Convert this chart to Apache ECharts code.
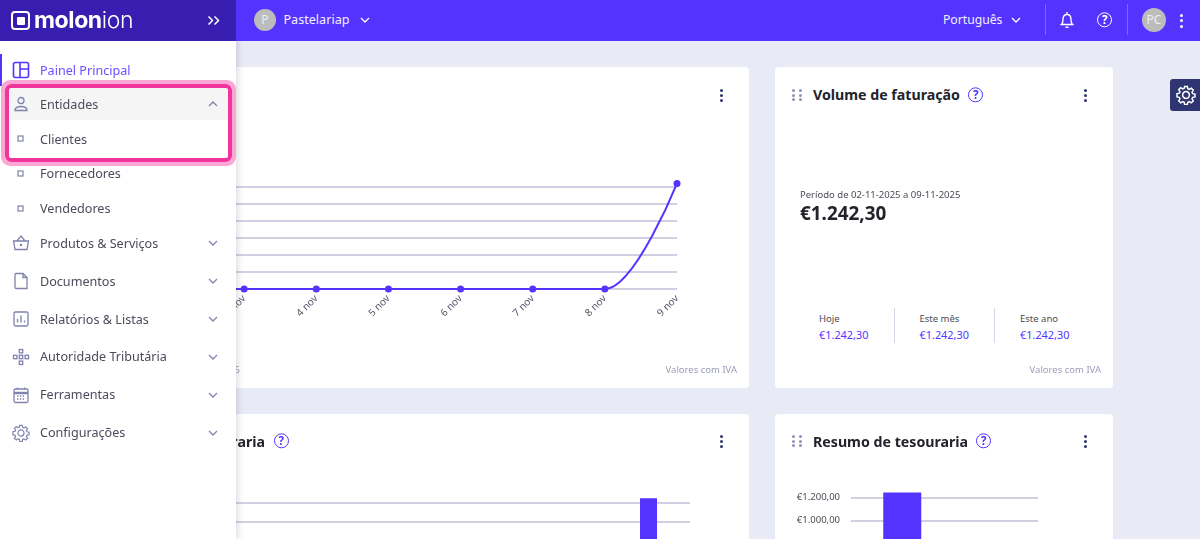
<!DOCTYPE html>
<html lang="pt">
<head>
<meta charset="utf-8">
<title>Painel Principal</title>
<script src="https://cdn.jsdelivr.net/npm/echarts@6/dist/echarts.min.js"></script>
<style>
html,body{margin:0;padding:0;width:1200px;height:539px;overflow:hidden;background:#e8eaf6;font-family:"Noto Sans",sans-serif;color:#4a4b5c}
.abs,.t,.card,.chart,svg{position:absolute}
.t{white-space:nowrap;line-height:1;transform:translateY(-50%)}
.card{background:#fff;border-radius:4px}
.title{font-size:14.2px;font-weight:700;color:#22232b}
.foot{font-size:9.5px;color:#9b9eb9}
.small{font-size:9.5px;color:#4a4b55}
.val{font-size:10.9px;color:#5533ff}
#top{left:236px;top:0;width:964px;height:41px;background:#5533ff;z-index:5}
#brand{left:0;top:0;width:236px;height:41px;background:#371eb0;z-index:12}
#side{left:0;top:41px;width:236px;height:498px;background:#fff;box-shadow:2px 0 6px rgba(60,60,90,.18);z-index:10}
.sep{background:rgba(255,255,255,.25);width:1px}
</style>
</head>
<body>
<div class="card" style="left:60px;top:67px;width:689px;height:321px"></div>
<div class="card" style="left:775px;top:67px;width:338px;height:321px"></div>
<div class="card" style="left:60px;top:414px;width:689px;height:200px"></div>
<div class="card" style="left:775px;top:414px;width:338px;height:200px"></div>

<div id="chartFaturacao" class="chart" style="left:0;top:67px;width:749px;height:321px"></div>
<div id="chartTesouraria" class="chart" style="left:0;top:414px;width:749px;height:260px"></div>
<div id="chartResumo" class="chart" style="left:775px;top:414px;width:338px;height:260px"></div>

<div id="texts"></div>

<div id="top" class="abs"></div>
<div id="brand" class="abs"></div>
<div id="side" class="abs"></div>

<script>
// dados dos graficos
var diasLabels = ['2 nov','3 nov','4 nov','5 nov','6 nov','7 nov','8 nov','9 nov'];
var faturacaoValores = [0,0,0,0,0,0,0,1242.30];
var mesesLabels = ['jun','jul','ago','set','out','nov'];
var tesourariaValores = [0,0,0,0,0,1242.30];
var resumoLabels = ['Recebimentos','Pagamentos'];
var resumoValores = [1242.30,0];

// menu lateral: texto, y, icone
var menuItems = [
  ['Painel Principal',70,'painel'],
  ['Entidades',104,'pessoa'],
  ['Clientes',139,'quad'],
  ['Fornecedores',173.5,'quad'],
  ['Vendedores',208.5,'quad'],
  ['Produtos & Serviços',243,'cesto'],
  ['Documentos',281,'doc'],
  ['Relatórios & Listas',319,'rel'],
  ['Autoridade Tributária',356.5,'rede'],
  ['Ferramentas',394.5,'cal'],
  ['Configurações',432.5,'gear']
];
var comSeta = ['Produtos & Serviços','Documentos','Relatórios & Listas','Autoridade Tributária','Ferramentas','Configurações'];

var ROXO = '#5533ff', LINHA = '#bfc2da', ICON = '#7f83ad';

var gearPath = 'M10 6.6a3.4 3.4 0 1 0 0 6.8a3.4 3.4 0 1 0 0-6.8zM8.6 1.5h2.8l.4 2.3 1.5.7 2-1.3 2 2-1.3 2 .7 1.5 2.3.4v2.8l-2.3.4-.7 1.5 1.3 2-2 2-2-1.3-1.5.7-.4 2.3H8.6l-.4-2.3-1.5-.7-2 1.3-2-2 1.3-2-.7-1.5-2.3-.4V8.6l2.3-.4.7-1.5-1.3-2 2-2 2 1.3 1.5-.7z';
var icons = {
  painel:'<rect x="1.5" y="1.5" width="15" height="15" rx="2"/><path d="M8 1.5v15M8 8h8.5"/>',
  pessoa:'<circle cx="9" cy="5.5" r="3"/><path d="M3 15.5c0-3 2-4 6-4s6 1 6 4z"/>',
  quad:'<rect x="6" y="6" width="5" height="5" stroke-width="1.2"/>',
  cesto:'<path d="M1.5 7h15l-1.5 8.5H3zM5 7l4-5 4 5"/><circle cx="9" cy="11" r=".6"/>',
  doc:'<path d="M4 1.5h7l4 4v11H4a1 1 0 0 1-1-1v-13a1 1 0 0 1 1-1zM11 1.5v4h4"/>',
  rel:'<rect x="2" y="2" width="14" height="14" rx="1.5"/><path d="M5.5 12.5V9M9 12.5V5.5M12.5 12.5v-2"/>',
  rede:'<rect x="7.3" y="1.5" width="3.4" height="3.4"/><rect x="7.3" y="7.3" width="3.4" height="3.4"/><rect x="7.3" y="13.1" width="3.4" height="3.4"/><rect x="1.5" y="7.3" width="3.4" height="3.4"/><rect x="13.1" y="7.3" width="3.4" height="3.4"/>',
  cal:'<rect x="2" y="3" width="14" height="13.5" rx="1.5"/><path d="M2 7h14" stroke-width="2.4"/><path d="M5.5 1.5v2.5M12.5 1.5v2.5M5 10h8M5 13h8" stroke-dasharray="1.4 1.4"/>',
  gear:'<g transform="scale(.9)"><path d="'+gearPath+'"/></g>'
};

function svg(x,y,w,h,vb,inner,color,sw,extra){
  return '<svg style="left:'+x+'px;top:'+y+'px" width="'+w+'" height="'+h+'" viewBox="'+vb+'" fill="none" stroke="'+color+'" stroke-width="'+(sw||1.3)+'" '+(extra||'')+'>'+inner+'</svg>';
}
function txt(cls,x,y,s,style){
  return '<div class="t '+cls+'" style="left:'+x+'px;top:'+y+'px;'+(style||'')+'">'+s+'</div>';
}
function txtR(cls,r,y,s,style){
  return '<div class="t '+cls+'" style="right:'+(1200-r)+'px;top:'+y+'px;'+(style||'')+'">'+s+'</div>';
}
function chevron(x,y,up,color){
  return svg(x-5,y-4,10,8,'0 0 10 8',up?'<path d="M1 6l4-4 4 4"/>':'<path d="M1 2l4 4 4-4"/>',color,1.3);
}
function dots(x,y){
  var o='';
  [-5,0,5].forEach(function(d){o+='<div class="abs" style="left:'+(x-1.5)+'px;top:'+(y+d-1.5)+'px;width:3px;height:3px;border-radius:50%;background:#2f3570"></div>'});
  return o;
}
function grip(x,y){
  var o='';
  [-3.5,3.5].forEach(function(dx){[-4.5,0,4.5].forEach(function(dy){
    o+='<div class="abs" style="left:'+(x+dx-1.5)+'px;top:'+(y+dy-1.5)+'px;width:3px;height:3px;border-radius:50%;background:#8e92b6"></div>'})});
  return o;
}
function ajuda(x,y,color){
  return '<div class="t" style="left:'+(x-8)+'px;top:'+y+'px;width:13.4px;height:13.4px;border:1.6px solid '+color+';border-radius:50%;text-align:center;line-height:14px;font-size:11.5px;font-weight:700;color:'+color+'">?</div>';
}

// barra superior
var topHtml = '';
var off = 236;
topHtml += '<div class="abs" style="left:'+(254-off)+'px;top:9px;width:22px;height:22px;border-radius:50%;background:#bcbcbc;color:#eee;font-size:12px;line-height:22px;text-align:center">P</div>';
topHtml += txt('',283.5-off,20,'Pastelariap','color:#f2f0ff;font-size:12.6px');
topHtml += chevron(365-off,20,false,'#fff');
topHtml += txt('',943-off,20,'Português','color:#f2f0ff;font-size:12.2px');
topHtml += chevron(1016-off,20,false,'#fff');
topHtml += '<div class="abs sep" style="left:'+(1045-off)+'px;top:4px;height:31px"></div>';
topHtml += '<div class="abs sep" style="left:'+(1127-off)+'px;top:4px;height:31px"></div>';
topHtml += svg(1060-off,11,14,18,'0 0 14 18','<path d="M1.5 13.5c1.2-1 1.5-2 1.5-5 0-3 1.5-5 4-5s4 2 4 5c0 3 .3 4 1.5 5zM5.5 16.2h3M7 1v2"/>','#fff',1.4);
topHtml += ajuda(1105-off,20,'#fff');
topHtml += '<div class="abs" style="left:'+(1142-off)+'px;top:8px;width:24px;height:24px;border-radius:50%;background:#bcbcbc;color:#eee;font-size:12px;line-height:24px;text-align:center">PC</div>';
[-5.5,0,5.5].forEach(function(d){topHtml+='<div class="abs" style="left:'+(1180-off)+'px;top:'+(19+d)+'px;width:3px;height:3px;border-radius:50%;background:#fff"></div>'});
document.getElementById('top').innerHTML = topHtml;

// logo
document.getElementById('brand').innerHTML =
  '<div class="abs" style="left:11px;top:11px;width:15px;height:15px;border:2.6px solid #fff;border-radius:4px"></div>' +
  '<div class="abs" style="left:17px;top:17px;width:8px;height:8px;background:#fff;border-radius:1px"></div>' +
  txt('',34,20,'<b style="font-weight:700">molon</b><span style="font-weight:300">ion</span>','color:#fff;font-size:23px;font-family:Inter,sans-serif;letter-spacing:-.4px') +
  svg(207,15,13,11,'0 0 13 11','<path d="M1.5 1.5l4 4-4 4M7.5 1.5l4 4-4 4"/>','#fff',1.5);

// menu lateral
var sideHtml = '';
var sy = -41;
sideHtml += '<div class="abs" style="left:0;top:'+(54+sy)+'px;width:2px;height:32px;background:'+ROXO+'"></div>';
sideHtml += '<div class="abs" style="left:8px;top:'+(87+sy)+'px;width:221px;height:33px;background:#f5f5f5"></div>';
menuItems.forEach(function(it){
  var y = it[1]+sy, ativo = it[0]==='Painel Principal';
  sideHtml += txt('',40,y+0.8,it[0],'font-size:12.6px;color:'+(ativo?'#6a4dff':'#4a4b5c'));
  sideHtml += svg(12,y-9,18,18,'0 0 18 18',icons[it[2]],ativo?ROXO:ICON,ativo?1.6:1.3);
  if(comSeta.indexOf(it[0])>=0) sideHtml += chevron(213,y,false,ICON);
});
sideHtml += chevron(213,104+sy,true,ICON);
// caixa de destaque
sideHtml += '<div class="abs" style="left:1px;top:'+(79.5+sy)+'px;width:235px;height:86px;box-sizing:border-box;border:4px solid #fba6d3;border-radius:9px"></div>';
sideHtml += '<div class="abs" style="left:5px;top:'+(83.5+sy)+'px;width:227px;height:78px;box-sizing:border-box;border:4px solid #f2359d;border-radius:6px"></div>';
document.getElementById('side').innerHTML = sideHtml;

// conteudo dos cartoes
var h = '';
h += dots(721,95) + dots(721,441) + dots(1085,95) + dots(1085,441);
h += grip(797,95) + grip(797,441);
h += txt('title',813,95,'Volume de faturação');
h += ajuda(976,95,ROXO);
h += txt('title',813,441.5,'Resumo de tesouraria');
h += ajuda(984,441,ROXO);
h += txtR('title',265,441.5,'Previsão de tesouraria');
h += ajuda(281.5,441,ROXO);
h += txt('small',800,195,'Período de 02-11-2025 a 09-11-2025');
h += txt('',800,213,'€1.242,30','font-size:18.9px;font-weight:700;color:#22232b');
[['Hoje',819],['Este mês',919.5],['Este ano',1020]].forEach(function(c){
  h += txt('small',c[1],319,c[0]);
  h += txt('val',c[1],335,'€1.242,30');
});
h += '<div class="abs" style="left:893.5px;top:308px;width:1.2px;height:35px;background:#d5d7e6"></div>';
h += '<div class="abs" style="left:994px;top:308px;width:1.2px;height:35px;background:#d5d7e6"></div>';
h += txtR('foot',737,370,'Valores com IVA');
h += txtR('foot',1101,370,'Valores com IVA');
h += txtR('foot',240,370,'Período de 02-11-2025 a 09-11-2025');
// botao de definicoes
h += '<div class="abs" style="left:1170px;top:79px;width:30px;height:32px;background:#2f3570;border-radius:3px 0 0 3px"></div>';
h += svg(1176,85,20,20,'0 0 20 20','<path d="'+gearPath+'"/>','#fff',1.5);
document.getElementById('texts').innerHTML = h;

// formato dos valores em euro
function euro(v){
  var s = v.toFixed(2).split('.');
  return '€' + s[0].replace(/\B(?=(\d{3})+$)/g,'.') + ',' + s[1];
}

var eixoY = {
  type:'value', min:0, max:1200, interval:200,
  axisLine:{show:false},
  axisTick:{show:true,length:6,lineStyle:{color:LINHA,width:1.5}},
  axisLabel:{color:'#4a4b55',fontSize:9.5,fontFamily:'Noto Sans',margin:17,formatter:euro},
  splitLine:{lineStyle:{color:LINHA,width:1.5}}
};

var chartFaturacao = echarts.init(document.getElementById('chartFaturacao'));
chartFaturacao.setOption({
  animation:false,
  grid:{left:172,top:120,width:505,height:102},
  xAxis:{
    type:'category', boundaryGap:false, data:diasLabels,
    axisLine:{show:false}, axisTick:{show:false},
    axisLabel:{rotate:45,color:'#55566a',fontSize:10,fontFamily:'Noto Sans',margin:8,interval:0}
  },
  yAxis:eixoY,
  series:[{
    type:'line', data:faturacaoValores, smooth:0.32, clip:false,
    symbol:'circle', symbolSize:7,
    itemStyle:{color:ROXO}, lineStyle:{color:ROXO,width:2}
  }]
});

var chartTesouraria = echarts.init(document.getElementById('chartTesouraria'));
chartTesouraria.setOption({
  animation:false,
  grid:{left:192,top:88.3,width:498,height:118.2},
  xAxis:{
    type:'category', data:mesesLabels,
    axisLine:{show:false}, axisTick:{show:false},
    axisLabel:{color:'#55566a',fontSize:10,fontFamily:'Noto Sans'}
  },
  yAxis:eixoY,
  series:[{type:'bar',data:tesourariaValores,barWidth:17,clip:false,itemStyle:{color:ROXO}}]
});

var chartResumo = echarts.init(document.getElementById('chartResumo'));
chartResumo.setOption({
  animation:false,
  grid:{left:82,top:83.3,width:181,height:138},
  xAxis:{
    type:'category', data:resumoLabels,
    axisLine:{show:false}, axisTick:{show:false},
    axisLabel:{color:'#55566a',fontSize:10,fontFamily:'Noto Sans'}
  },
  yAxis:eixoY,
  series:[{type:'bar',data:resumoValores,barWidth:38,clip:false,itemStyle:{color:ROXO}}]
});
</script>
</body>
</html>
